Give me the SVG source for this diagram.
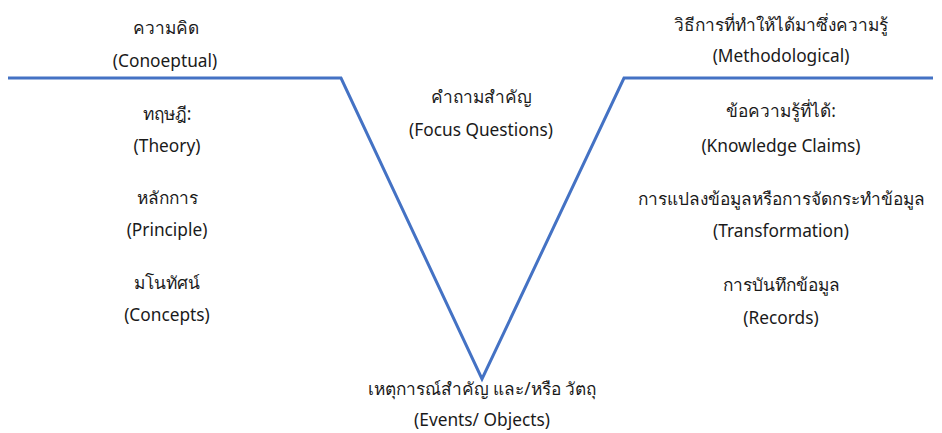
<svg xmlns="http://www.w3.org/2000/svg" width="942" height="433" viewBox="0 0 942 433">
<style>
text{font-family:"Noto Sans","DejaVu Sans",sans-serif;font-size:17.3px;fill:#1a1a1a;text-anchor:middle}
.v{fill:none;stroke:#4472C4;stroke-width:3;stroke-linejoin:miter}
</style>
<rect width="942" height="433" fill="#ffffff"/>
<g id="connectors">
<polyline class="v" points="8,78 341,78 482,379 624,78 933,78"/>
</g>
<g id="conceptual"><text x="166" y="34">ความคิด</text><text x="165" y="67">(Conoeptual)</text></g>
<g id="methodological"><text x="781" y="31">วิธีการที่ทำให้ได้มาซึ่งความรู้</text><text x="781" y="62">(Methodological)</text></g>
<g id="theory"><text x="167" y="120">ทฤษฎี:</text><text x="167" y="152">(Theory)</text></g>
<g id="principle"><text x="167" y="204">หลักการ</text><text x="167" y="236">(Principle)</text></g>
<g id="concepts"><text x="167" y="289">มโนทัศน์</text><text x="167" y="321">(Concepts)</text></g>
<g id="focus"><text x="481" y="103">คำถามสำคัญ</text><text x="481" y="136">(Focus Questions)</text></g>
<g id="claims"><text x="781" y="117">ข้อความรู้ที่ได้:</text><text x="781" y="152">(Knowledge Claims)</text></g>
<g id="transformation"><text x="781" y="205">การแปลงข้อมูลหรือการจัดกระทำข้อมูล</text><text x="781" y="237">(Transformation)</text></g>
<g id="records"><text x="781" y="291">การบันทึกข้อมูล</text><text x="781" y="324">(Records)</text></g>
<g id="events"><text x="482" y="395">เหตุการณ์สำคัญ และ/หรือ วัตถุ</text><text x="482" y="426">(Events/ Objects)</text></g>
</svg>
